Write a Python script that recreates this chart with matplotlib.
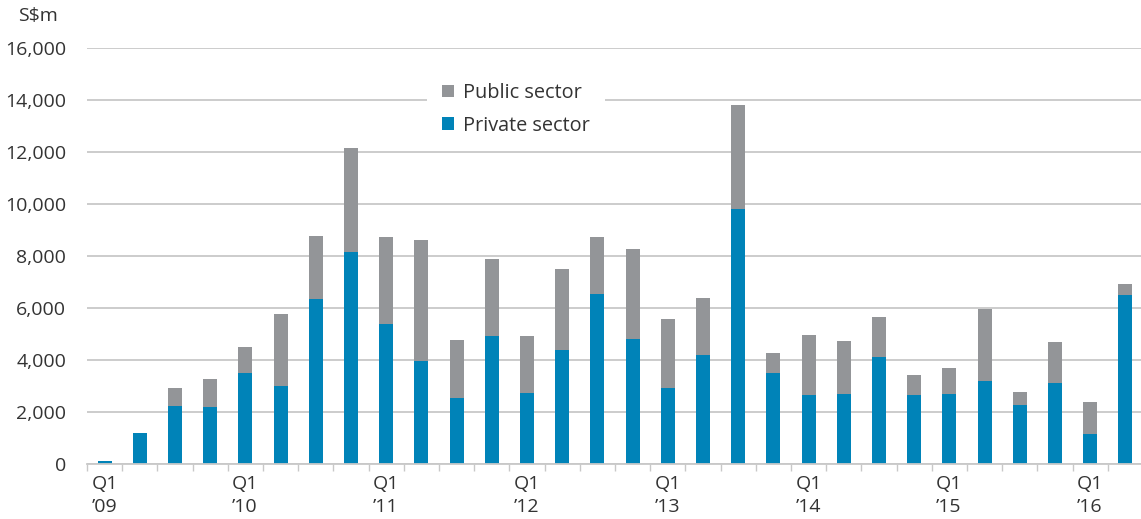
"""Quarterly sales by sector, stacked bars."""

import matplotlib

matplotlib.use("Agg")

import matplotlib.pyplot as plt
import numpy as np
from matplotlib.patches import Patch

COLOR_PRIVATE = "#0083b8"
COLOR_PUBLIC = "#939598"
COLOR_GRID = "#c8c8c8"
COLOR_TEXT = "#333333"

# Q1 2009 .. Q2 2016
quarters = [f"Q{q} {y}" for y in range(2009, 2017) for q in range(1, 5)][:30]
private_sector = [
    130, 1190, 2220, 2180, 3490, 2990, 6350, 8150, 5380, 3970,
    2530, 4910, 2730, 4400, 6540, 4820, 2910, 4180, 9810, 3500,
    2640, 2680, 4130, 2640, 2680, 3190, 2270, 3100, 1150, 6500,
]
total = [
    130, 1190, 2920, 3260, 4490, 5760, 8780, 12150, 8720, 8630,
    4780, 7880, 4920, 7510, 8720, 8270, 5590, 6400, 13810, 4280,
    4950, 4720, 5640, 3440, 3680, 5950, 2770, 4690, 2380, 6910,
]
public_sector = [t - p for t, p in zip(total, private_sector)]

label_years = ["’09", "’10", "’11", "’12", "’13", "’14", "’15", "’16"]
y_ticks = list(range(0, 16001, 2000))

plt.rcParams["font.family"] = ["Open Sans", "DejaVu Sans"]

W, H = 1141, 519
fig = plt.figure(figsize=(W / 100, H / 100), dpi=100)
ax = fig.add_axes([87 / W, 1 - 464 / H, (1143 - 87) / W, (464 - 48) / H])

x = np.arange(len(quarters))
ax.bar(x, private_sector, width=0.4, color=COLOR_PRIVATE, zorder=2)
ax.bar(x, public_sector, width=0.4, bottom=private_sector, color=COLOR_PUBLIC, zorder=2)

ax.set_xlim(-0.5, len(quarters) - 0.5)
ax.set_ylim(0, 16000)

ax.set_yticks(y_ticks)
ax.set_yticklabels([f"{v:,}" for v in y_ticks])
ax.yaxis.grid(True, color=COLOR_GRID, linewidth=1.3)
ax.set_axisbelow(True)
ax.tick_params(axis="y", length=0, pad=15, labelsize=14, labelcolor=COLOR_TEXT)

q1_pos = x[::4]
ax.set_xticks(q1_pos)
ax.set_xticklabels([f"Q1\n{yr}" for yr in label_years], multialignment="left",
                   linespacing=1.35)
ax.set_xticks(np.arange(-0.5, len(quarters), 1.0), minor=True)
ax.tick_params(axis="x", which="major", length=0, pad=8, labelsize=14, labelcolor=COLOR_TEXT)
ax.tick_params(axis="x", which="minor", length=5, width=1, color=COLOR_GRID)

for side in ("top", "right", "left"):
    ax.spines[side].set_visible(False)
ax.spines["bottom"].set_color(COLOR_GRID)
ax.spines["bottom"].set_linewidth(1.3)

fig.text(18 / W, 1 - 16 / H, "S$m", fontsize=14, color=COLOR_TEXT, va="center")

handles = [
    Patch(facecolor=COLOR_PUBLIC, label="Public sector"),
    Patch(facecolor=COLOR_PRIVATE, label="Private sector"),
]
leg = ax.legend(
    handles=handles,
    loc="upper left",
    bbox_to_anchor=(427 / W, 1 - 68 / H),
    bbox_transform=fig.transFigure,
    borderaxespad=0,
    frameon=True,
    fancybox=False,
    facecolor="white",
    edgecolor="none",
    framealpha=1,
    fontsize=14.3,
    handlelength=0.6,
    handleheight=0.6,
    handletextpad=0.45,
    labelspacing=0.65,
    borderpad=0.75,
)
for t in leg.get_texts():
    t.set_color(COLOR_TEXT)

fig.savefig("out.png", dpi=100)
plt.close(fig)
